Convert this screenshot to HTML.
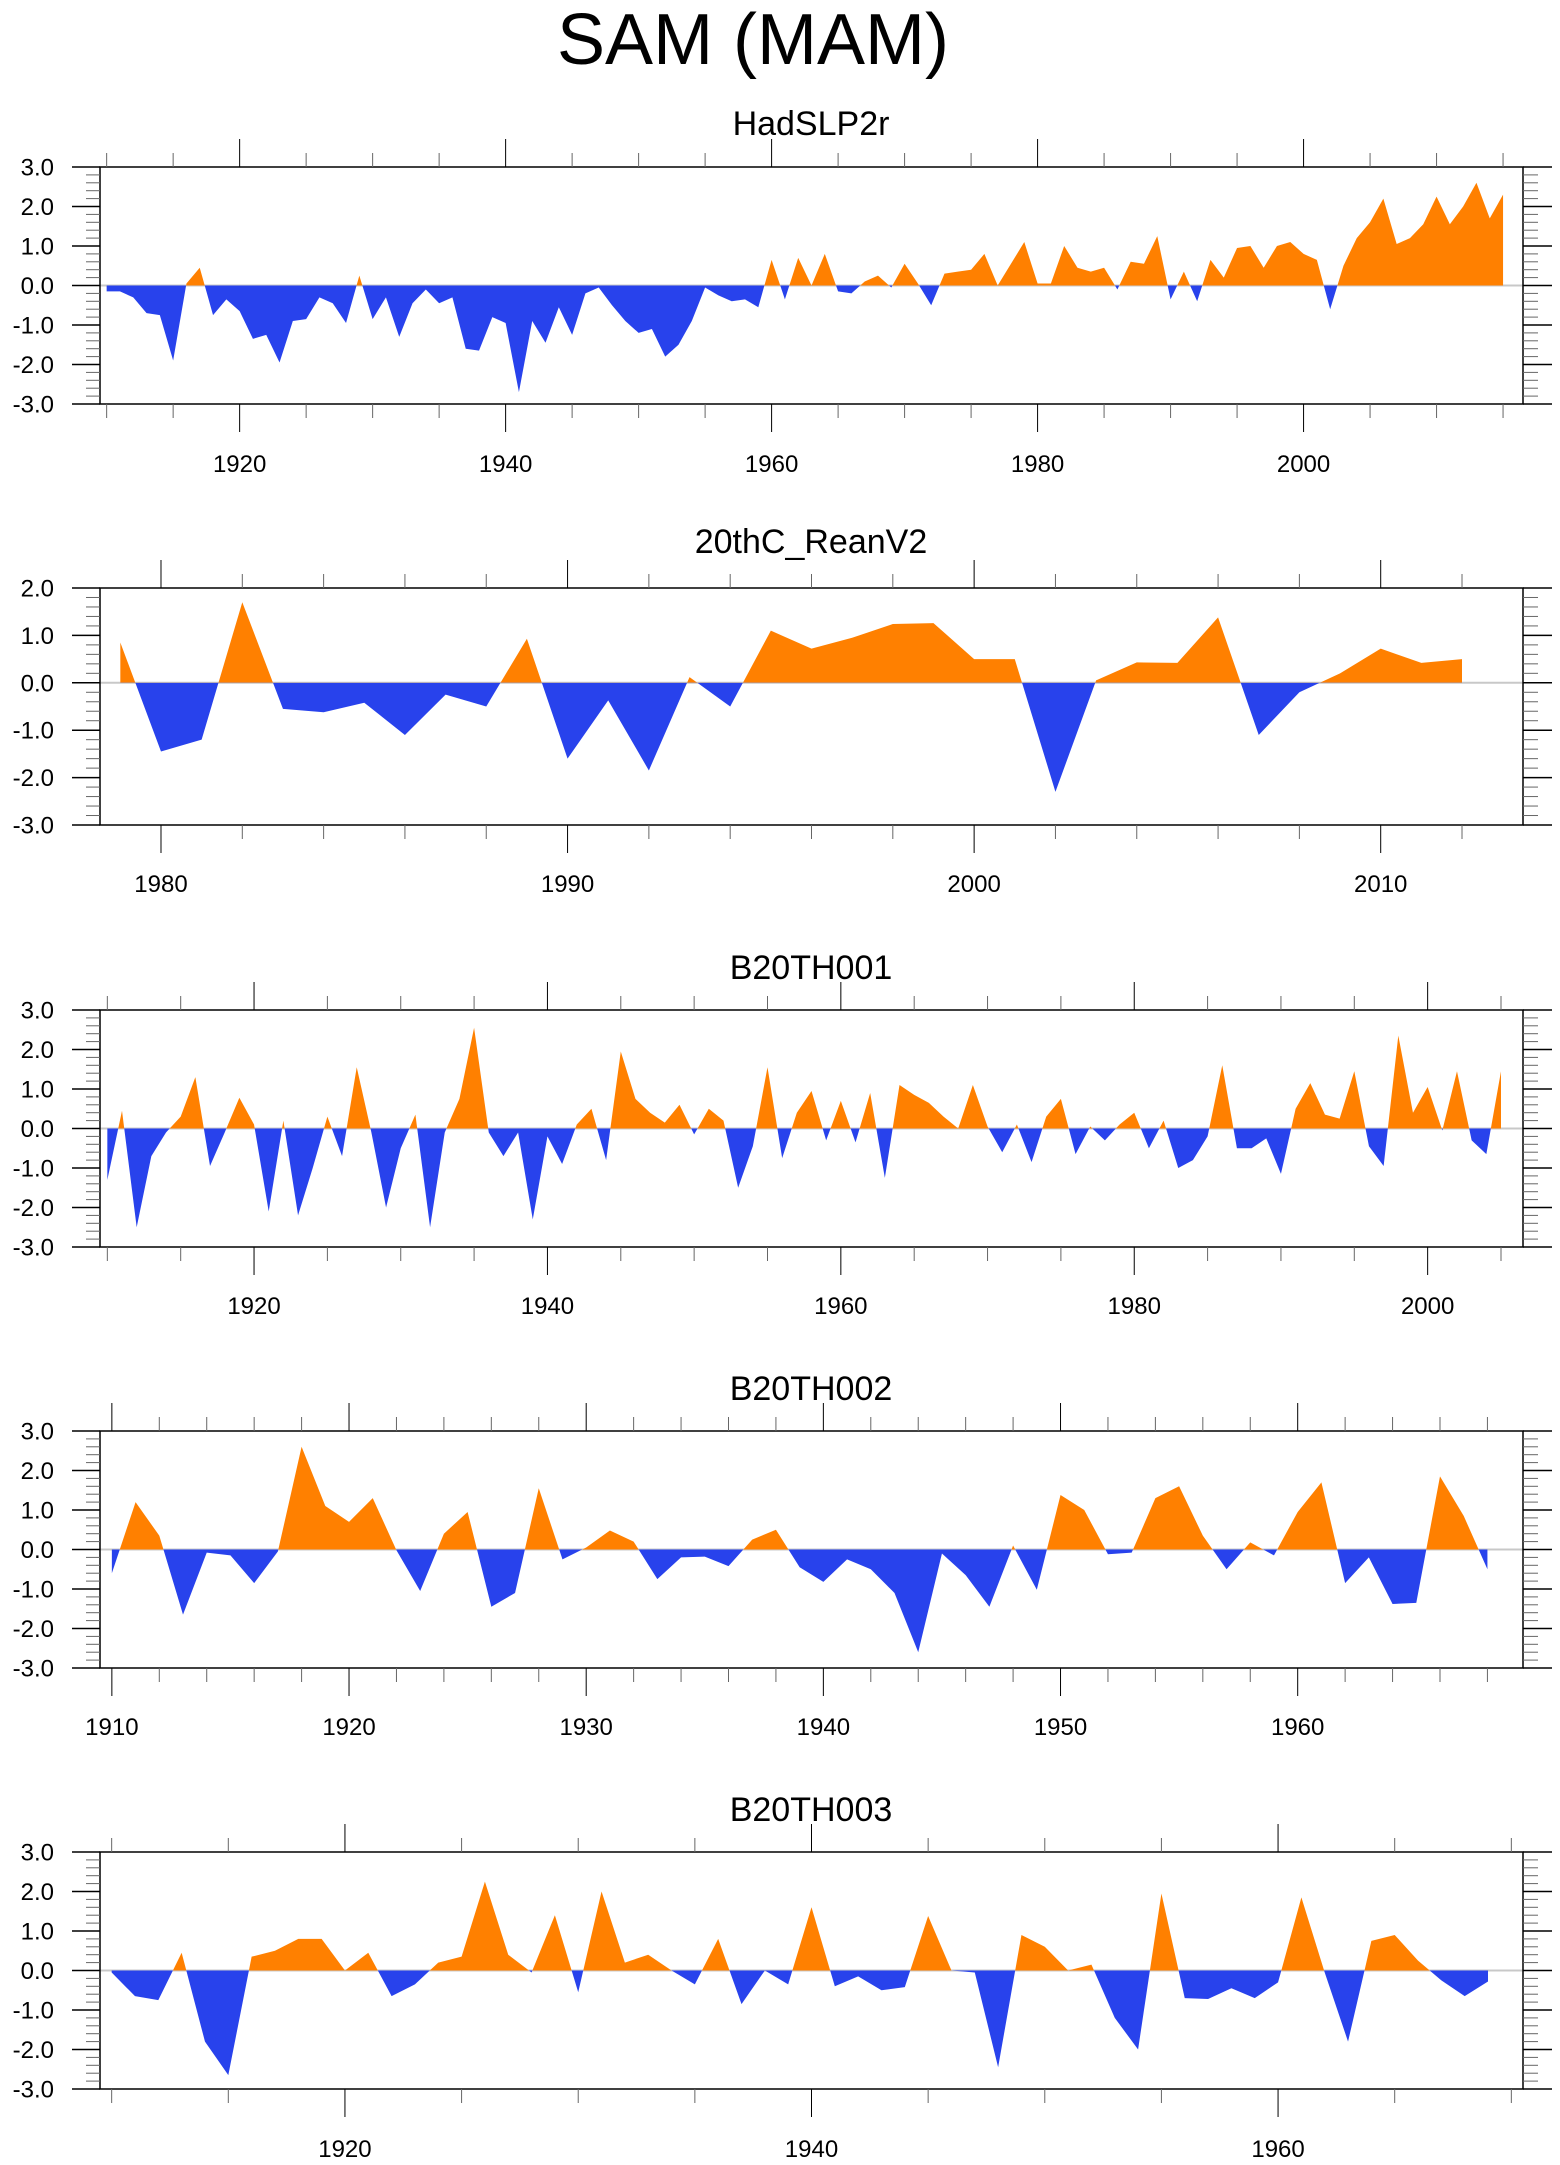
<!DOCTYPE html>
<html><head><meta charset="utf-8"><style>
html,body{margin:0;padding:0;background:#fff;}
svg{display:block;font-family:"Liberation Sans",Arial,sans-serif;}
</style></head><body>
<svg id="fig" width="1560" height="2165" viewBox="0 0 1560 2165" xmlns="http://www.w3.org/2000/svg">
<text x="753" y="64" font-size="72" text-anchor="middle">SAM (MAM)</text>
</svg>
<script>
// ---- data ----
const p1Years = [1910, 2015];
const p1Values = [-0.15,-0.15,-0.3,-0.7,-0.75,-1.9,0.05,0.45,-0.75,-0.35,-0.65,-1.35,-1.25,-1.95,-0.9,-0.85,-0.3,-0.45,-0.95,0.25,-0.85,-0.3,-1.3,-0.45,-0.1,-0.45,-0.3,-1.6,-1.65,-0.8,-0.95,-2.7,-0.9,-1.45,-0.55,-1.25,-0.2,-0.05,-0.5,-0.9,-1.2,-1.1,-1.8,-1.5,-0.9,-0.05,-0.25,-0.4,-0.35,-0.55,0.65,-0.35,0.7,0.0,0.8,-0.15,-0.2,0.1,0.25,-0.05,0.55,0.05,-0.5,0.3,0.35,0.4,0.8,0.0,0.55,1.1,0.05,0.05,1.0,0.45,0.35,0.45,-0.1,0.6,0.55,1.25,-0.35,0.35,-0.4,0.65,0.2,0.95,1.0,0.45,1.0,1.1,0.8,0.65,-0.6,0.5,1.2,1.6,2.2,1.05,1.2,1.55,2.25,1.55,2.0,2.6,1.7,2.3];
const p2Years = [1979, 2012];
const p2Values = [0.85,-1.45,-1.2,1.7,-0.55,-0.62,-0.42,-1.1,-0.25,-0.5,0.93,-1.6,-0.37,-1.85,0.12,-0.5,1.1,0.72,0.95,1.24,1.26,0.5,0.5,-2.3,0.05,0.43,0.42,1.38,-1.1,-0.2,0.2,0.72,0.42,0.5];
const p3Years = [1910, 2005];
const p3Values = [-1.3,0.45,-2.5,-0.7,-0.1,0.3,1.3,-0.95,-0.1,0.78,0.1,-2.1,0.2,-2.2,-1.0,0.3,-0.7,1.55,-0.1,-2.0,-0.5,0.35,-2.5,-0.1,0.75,2.55,-0.1,-0.7,-0.1,-2.3,-0.2,-0.9,0.1,0.5,-0.8,1.95,0.75,0.4,0.15,0.6,-0.15,0.5,0.2,-1.5,-0.45,1.55,-0.75,0.4,0.95,-0.3,0.7,-0.35,0.9,-1.25,1.1,0.85,0.65,0.3,0.0,1.1,0.05,-0.6,0.1,-0.85,0.3,0.75,-0.65,0.05,-0.3,0.1,0.4,-0.5,0.2,-1.0,-0.8,-0.2,1.6,-0.5,-0.5,-0.25,-1.15,0.5,1.15,0.35,0.25,1.45,-0.45,-0.95,2.35,0.4,1.05,-0.05,1.45,-0.3,-0.65,1.45];
const p4Years = [1910, 1968];
const p4Values = [-0.6,1.2,0.35,-1.65,-0.08,-0.15,-0.85,-0.05,2.6,1.1,0.7,1.3,-0.02,-1.05,0.4,0.95,-1.45,-1.1,1.55,-0.25,0.05,0.48,0.2,-0.75,-0.2,-0.18,-0.42,0.25,0.5,-0.45,-0.82,-0.25,-0.5,-1.1,-2.6,-0.1,-0.65,-1.45,0.1,-1.02,1.38,1.0,-0.12,-0.08,1.3,1.6,0.35,-0.5,0.18,-0.15,0.95,1.7,-0.85,-0.2,-1.38,-1.35,1.85,0.85,-0.5];
const p5Years = [1910, 1969];
const p5Values = [-0.05,-0.65,-0.75,0.45,-1.8,-2.65,0.35,0.5,0.8,0.8,0.0,0.45,-0.65,-0.35,0.2,0.35,2.25,0.4,-0.05,1.4,-0.55,2.0,0.2,0.4,0.0,-0.35,0.8,-0.85,0.0,-0.35,1.6,-0.4,-0.15,-0.5,-0.42,1.38,0.0,-0.05,-2.45,0.9,0.6,0.0,0.15,-1.2,-2.0,1.95,-0.7,-0.72,-0.45,-0.7,-0.3,1.85,-0.05,-1.8,0.75,0.9,0.25,-0.25,-0.65,-0.28];
const panelTitles = ["HadSLP2r","20thC_ReanV2","B20TH001","B20TH002","B20TH003"];
const yMaxes = [3, 2, 3, 3, 3];
const majorSteps = [20, 10, 20, 10, 20];
const minorSteps = [5, 2, 5, 2, 5];

const panels = [
  {years:p1Years, vals:p1Values, top:167, titleY:135, labY:472},
  {years:p2Years, vals:p2Values, top:588, titleY:553, labY:892},
  {years:p3Years, vals:p3Values, top:1010, titleY:979, labY:1314},
  {years:p4Years, vals:p4Values, top:1431, titleY:1400, labY:1735},
  {years:p5Years, vals:p5Values, top:1852, titleY:1821, labY:2157}
];
const NS = "http://www.w3.org/2000/svg";
const svg = document.getElementById('fig');
function mk(tag, attrs, parent){
  const e = document.createElementNS(NS, tag);
  for (const k in attrs) e.setAttribute(k, attrs[k]);
  (parent||svg).appendChild(e);
  return e;
}
const L = 100, R = 1523, H = 237;
panels.forEach((p, pi) => {
  const g = mk('g', {});
  
  
  const y0 = p.years[0], y1 = p.years[1];
  const xmin = y0 - 0.5, xmax = y1 + 1.5;
  const ymax = yMaxes[pi], ymin = -3;
  const top = p.top, bot = top + H;
  const X = v => L + (v - xmin) / (xmax - xmin) * (R - L);
  const Y = v => top + (ymax - v) / (ymax - ymin) * H;
  const zy = Y(0);
  const t = mk('text', {x: 811, y: p.titleY, 'font-size': 34, 'text-anchor': 'middle'}, g);
  t.textContent = panelTitles[pi];
  
  
  const idA = 'ca' + pi, idB = 'cb' + pi;
  const cA = mk('clipPath', {id: idA}, g); mk('rect', {x: L, y: top, width: R-L, height: zy-top}, cA);
  const cB = mk('clipPath', {id: idB}, g); mk('rect', {x: L, y: zy, width: R-L, height: bot-zy}, cB);
  let pts = X(y0) + ',' + zy + ' ';
  p.vals.forEach((v, i) => { pts += X(y0 + i) + ',' + Y(v) + ' '; });
  pts += X(y0 + p.vals.length - 1) + ',' + zy;
  const zl = mk('line', {x1: L, x2: R, y1: zy, y2: zy, stroke: '#c8c8c8', 'stroke-width': 2}, g);
  
  
  const pa = mk('polygon', {points: pts, fill: '#ff8000', 'clip-path': 'url(#' + idA + ')'}, g);
  
  
  const pb = mk('polygon', {points: pts, fill: '#2842ec', 'clip-path': 'url(#' + idB + ')'}, g);
  
  
  const fr = mk('rect', {x: L, y: top, width: R-L, height: H, fill: 'none', stroke: '#000', 'stroke-width': 1.5}, g);
  
  
  for (let k = Math.round(ymin*5); k <= ymax*5; k++) {
    const v = k / 5, yy = Y(v);
    const major = (k % 5 === 0);
    mk('line', {x1: major ? 72 : 86, x2: L, y1: yy, y2: yy, stroke: major ? '#000' : '#666', 'stroke-width': major ? 1.5 : 1}, g);
    mk('line', {x1: R, x2: major ? 1552 : 1538, y1: yy, y2: yy, stroke: major ? '#000' : '#666', 'stroke-width': major ? 1.5 : 1}, g);
    if (major) {
      const lt = mk('text', {x: 54, y: yy + 8.5, 'font-size': 24, 'text-anchor': 'end'}, g);
      lt.textContent = v.toFixed(1);
      
      
    }
  }
  const ms = minorSteps[pi], Ms = majorSteps[pi];
  for (let yr = Math.ceil(xmin / ms) * ms; yr <= xmax; yr += ms) {
    const xx = X(yr);
    const major = (yr % Ms === 0);
    const len = major ? 28 : 14;
    const col = major ? '#000' : '#666';
    mk('line', {x1: xx, x2: xx, y1: top - len, y2: top, stroke: col, 'stroke-width': 1}, g);
    mk('line', {x1: xx, x2: xx, y1: bot, y2: bot + len, stroke: col, 'stroke-width': 1}, g);
    if (major) {
      const xt = mk('text', {x: xx, y: p.labY, 'font-size': 24, 'text-anchor': 'middle'}, g);
      xt.textContent = String(yr);
      
      
    }
  }
});
</script>
</body></html>
